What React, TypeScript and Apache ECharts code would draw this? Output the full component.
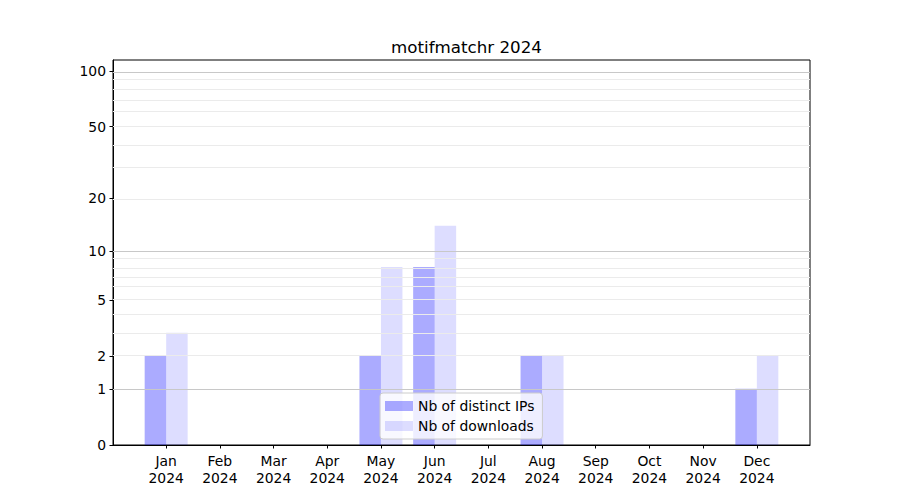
import React, { useEffect, useRef } from "react";
import * as echarts from "echarts";

const title = "motifmatchr 2024";
const months = ["Jan", "Feb", "Mar", "Apr", "May", "Jun", "Jul", "Aug", "Sep", "Oct", "Nov", "Dec"];
const year = "2024";
const distinctIPs = [2, 0, 0, 0, 2, 8, 0, 2, 0, 0, 0, 1];
const downloads = [3, 0, 0, 0, 8, 14, 0, 2, 0, 0, 0, 2];
const yTickLabels = [0, 1, 2, 5, 10, 20, 50, 100];
const majorGrid = [1, 10, 100];
const minorGrid = [2, 3, 4, 5, 6, 7, 8, 9, 20, 30, 40, 50, 60, 70, 80, 90];
const yMaxRaw = 115;

const tf = (v: number) => Math.log10(1 + v);
const FONT = "DejaVu Sans";

export default function App() {
  const ref = useRef<HTMLDivElement>(null);
  useEffect(() => {
    if (!ref.current) return;
    const chart = echarts.init(ref.current, undefined, { renderer: "svg" });
    const monthIdx = months.map((_, i) => i);
    chart.setOption({
      animation: false,
      textStyle: { fontFamily: FONT },
      title: {
        text: title,
        left: 461.5,
        top: 33,
        textAlign: "center",
        textStyle: { fontFamily: FONT, fontSize: 16.7, fontWeight: "normal", color: "#000" },
      },
      grid: {
        left: 113,
        right: 90,
        top: 60,
        bottom: 55,
        show: true,
        borderColor: "#000",
        borderWidth: 1,
        backgroundColor: "transparent",
        containLabel: false,
      },
      legend: {
        orient: "vertical",
        left: 380,
        top: 393,
        itemWidth: 28,
        itemHeight: 10,
        itemGap: 6,
        padding: [6, 8, 6, 5],
        backgroundColor: "rgba(255,255,255,0.8)",
        borderColor: "#cccccc",
        borderWidth: 1,
        borderRadius: 3,
        textStyle: { fontFamily: FONT, fontSize: 13.9, color: "#000" },
        data: [
          { name: "Nb of distinct IPs", icon: "rect" },
          { name: "Nb of downloads", icon: "rect" },
        ],
      },
      xAxis: {
        type: "value",
        min: -0.99,
        max: 11.99,
        splitLine: { show: false },
        axisLine: { show: true, onZero: false, lineStyle: { color: "#000", width: 1 } },
        axisTick: {
          show: true,
          length: 3.5,
          inside: false,
          customValues: monthIdx,
          lineStyle: { color: "#000" },
        },
        axisLabel: {
          customValues: monthIdx,
          margin: 7,
          fontFamily: FONT,
          fontSize: 13.9,
          lineHeight: 17,
          color: "#000",
          formatter: (v: number) => months[Math.round(v)] + "\n" + year,
        },
      },
      yAxis: {
        type: "value",
        min: 0,
        max: tf(yMaxRaw),
        splitLine: { show: false },
        axisLine: { show: true, onZero: false, lineStyle: { color: "#000", width: 1 } },
        axisTick: {
          show: true,
          length: 3.5,
          customValues: yTickLabels.map(tf),
          lineStyle: { color: "#000" },
        },
        axisLabel: {
          customValues: yTickLabels.map(tf),
          margin: 7,
          fontFamily: FONT,
          fontSize: 13.9,
          color: "#000",
          formatter: (v: number) => String(Math.round(Math.pow(10, v) - 1)),
        },
      },
      series: [
        {
          type: "line",
          data: [],
          z: 1,
          silent: true,
          markLine: {
            silent: true,
            symbol: "none",
            label: { show: false },
            animation: false,
            data: [
              ...minorGrid.map((v) => ({ yAxis: tf(v), lineStyle: { color: "#ebebeb", width: 1, type: "solid" } })),
              ...majorGrid.map((v) => ({ yAxis: tf(v), lineStyle: { color: "#c8c8c8", width: 1, type: "solid" } })),
            ],
          },
        },
        {
          name: "Nb of distinct IPs",
          type: "bar",
          z: 2,
          barWidth: 21.5,
          barGap: "0%",
          itemStyle: { color: "rgba(0,0,255,0.33)" },
          data: distinctIPs.map((v, i) => [i, tf(v)]),
        },
        {
          name: "Nb of downloads",
          type: "bar",
          z: 2,
          barWidth: 21.5,
          barGap: "0%",
          itemStyle: { color: "rgba(0,0,255,0.135)" },
          data: downloads.map((v, i) => [i, tf(v)]),
        },
      ],
    });
    return () => chart.dispose();
  }, []);
  return (
    <div
      ref={ref}
      style={{ position: "fixed", left: 0, top: 0, width: 900, height: 500, background: "#fff" }}
    />
  );
}
